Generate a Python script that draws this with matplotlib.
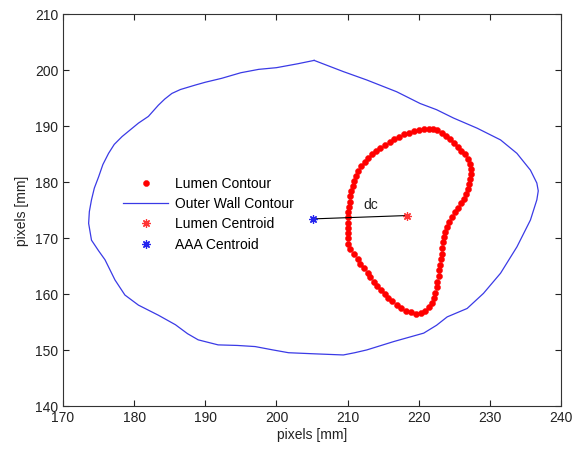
import numpy as np
import matplotlib
matplotlib.use('Agg')
import matplotlib.pyplot as plt

plt.rcParams['font.family'] = ['Liberation Sans', 'DejaVu Sans']

# outer wall contour (mm)
wall_x = [205.3, 203.0, 200.0, 197.5, 195.0, 192.3, 190.0, 188.6, 186.5, 185.3,
          184.3, 183.4, 182.0, 180.6, 178.3, 177.2, 176.4, 175.6, 175.0, 174.4,
          174.0, 173.7, 173.6, 174.0, 175.0, 175.9, 177.3, 178.7, 180.6, 183.4,
          185.8, 187.5, 189.0, 191.8, 194.5, 197.0, 199.5, 201.7, 205.4, 209.4,
          211.0, 212.7, 216.5, 220.7, 222.5, 224.0, 226.8, 229.1, 231.5, 233.8,
          235.7, 236.6, 236.8, 236.6, 235.7, 233.8, 231.5, 228.2, 224.9, 222.5,
          220.2, 216.9, 212.7, 209.4, 205.3]
wall_y = [201.8, 201.2, 200.5, 200.2, 199.6, 198.6, 197.9, 197.4, 196.6, 195.9,
          194.9, 193.8, 191.8, 190.6, 188.2, 186.8, 185.2, 183.2, 181.0, 179.0,
          176.9, 174.8, 172.7, 169.7, 167.8, 166.2, 162.6, 159.9, 158.1, 156.3,
          154.6, 153.0, 151.9, 151.0, 150.9, 150.7, 150.1, 149.6, 149.4, 149.2,
          149.6, 150.1, 151.6, 153.1, 154.5, 156.0, 157.5, 160.2, 163.8, 168.5,
          173.3, 176.9, 178.5, 179.9, 182.2, 185.2, 187.6, 189.7, 191.5, 193.0,
          194.1, 196.2, 198.3, 199.8, 201.8]

# lumen contour points (mm)
lumen_x = [221.4, 220.7, 220.0, 219.3, 218.6, 217.9, 217.2, 216.5, 215.9, 215.2,
           214.6, 214.0, 213.4, 212.9, 212.4, 211.9, 211.5, 211.2, 210.9, 210.7,
           210.5, 210.4, 210.3, 210.2, 210.1, 210.0, 210.0, 210.0, 210.0, 210.0,
           210.1, 210.4, 210.9, 211.4, 211.8, 212.3, 212.8, 213.2, 213.7, 214.2,
           214.7, 215.2, 215.7, 216.3, 216.9, 217.5, 218.2, 218.9, 219.6, 220.3,
           220.9, 221.4, 221.8, 222.1, 222.3, 222.5, 222.6, 222.8, 222.9, 223.0,
           223.1, 223.2, 223.3, 223.4, 223.5, 223.7, 224.0, 224.3, 224.7, 225.1,
           225.5, 225.9, 226.3, 226.6, 226.9, 227.1, 227.2, 227.3, 227.3, 227.2,
           226.9, 226.5, 226.0, 225.5, 225.0, 224.4, 223.8, 223.2, 222.6, 222.0]
lumen_y = [189.5, 189.5, 189.4, 189.2, 188.9, 188.6, 188.2, 187.7, 187.2, 186.7,
           186.2, 185.7, 185.1, 184.4, 183.7, 182.9, 182.1, 181.2, 180.3, 179.4,
           178.5, 177.6, 176.6, 175.7, 174.7, 173.8, 172.8, 171.9, 170.9, 170.0,
           169.0, 168.1, 167.2, 166.3, 165.5, 164.7, 163.9, 163.1, 162.3, 161.6,
           160.8, 160.1, 159.4, 158.8, 158.2, 157.6, 157.1, 156.8, 156.6, 156.7,
           157.1, 157.7, 158.5, 159.4, 160.3, 161.3, 162.3, 163.3, 164.3, 165.3,
           166.3, 167.3, 168.3, 169.3, 170.3, 171.2, 172.1, 173.0, 173.9, 174.7,
           175.5, 176.3, 177.1, 177.9, 178.8, 179.7, 180.6, 181.5, 182.4, 183.3,
           184.2, 185.0, 185.7, 186.4, 187.0, 187.7, 188.3, 188.8, 189.3, 189.5]

lumen_centroid = (218.4, 174.1)
aaa_centroid = (205.2, 173.5)

asterisk = (8, 2, 0)

fig = plt.figure(figsize=(5.74, 4.51), dpi=100)
ax = fig.add_axes([0.1098, 0.0987, 0.8676, 0.8692])

ax.plot(lumen_x, lumen_y, 'o', color='red', ms=4.4, mec='red', mew=0.3,
        ls='none', label='Lumen Contour')
ax.plot(wall_x, wall_y, '-', color='#3a3ae6', lw=0.9, label='Outer Wall Contour')
ax.plot([aaa_centroid[0], lumen_centroid[0]], [aaa_centroid[1], lumen_centroid[1]],
        '-', color='black', lw=0.8)
ax.plot(*lumen_centroid, ls='none', marker=asterisk, color='#ff3535', ms=6,
        mew=0.9, label='Lumen Centroid')
ax.plot(*aaa_centroid, ls='none', marker=asterisk, color='#2525ee', ms=6,
        mew=0.9, label='AAA Centroid')
ax.text(213.2, 175.9, 'dc', fontsize=10, ha='center', va='center', color='#222222')

ax.set_xlim(170, 240)
ax.set_ylim(140, 210)
ax.set_xticks(np.arange(170, 241, 10))
ax.set_yticks(np.arange(140, 211, 10))
ax.tick_params(direction='in', top=True, right=True, length=4, labelsize=10,
               colors='#222222')
for s in ax.spines.values():
    s.set_color('#333333')
    s.set_linewidth(0.8)
ax.set_xlabel('pixels [mm]', fontsize=10, color='#222222', labelpad=2)
ax.set_ylabel('pixels [mm]', fontsize=10, color='#222222', labelpad=4)

leg = ax.legend(loc='upper left', bbox_to_anchor=(0.11, 0.60), frameon=False,
                fontsize=10, handlelength=3.2, handletextpad=0.5,
                labelspacing=0.45, borderaxespad=0)

fig.savefig('out.png', dpi=100)
